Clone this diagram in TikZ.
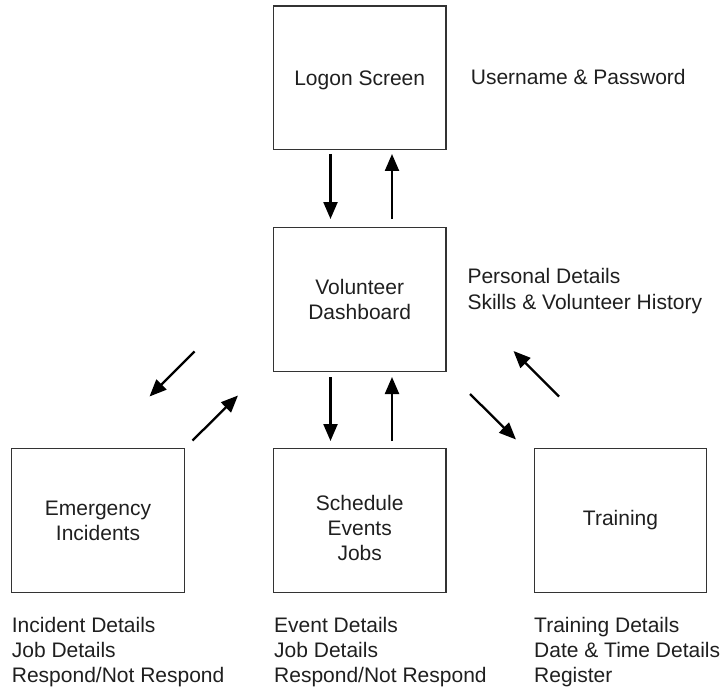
\documentclass[tikz,border=0pt]{standalone}
\usepackage{fontspec}
\setmainfont{Liberation Sans}
\usetikzlibrary{arrows.meta}
\begin{document}
\begin{tikzpicture}[x=1pt,y=-1pt,
  every node/.style={font=\fontsize{21}{25}\selectfont, text=black!88},
  box/.style={draw=black!80, line width=1.1pt, minimum width=172.5pt, minimum height=143.5pt, inner sep=0pt, align=center},
  note/.style={anchor=base west, align=left, inner sep=0pt},
  flow/.style={line width=2.3pt, -{Triangle[length=17pt,width=14pt]}}]
\useasboundingbox (0,0) rectangle (723,690);
% boxes
\node[box, label={[yshift=-2.5pt,inner sep=0pt]center:Logon Screen}] (logon) at (359.7,77.8) {};
\node[box] (dash) at (359.7,299.4) {Volunteer\\Dashboard};
\node[box] (emerg) at (98,520.5) {Emergency\\Incidents};
\node[box, label={[yshift=-7pt,align=center,inner sep=0pt]center:Schedule\\Events\\Jobs}] (sched) at (359.7,520.5) {};
\node[box] (train) at (620.5,520.5) {Training};
% notes (anchored at the baseline of their last line)
\node[note] (n1) at (470.7,85) {Username \& Password};
\node[note, font=\fontsize{21}{26}\selectfont] (n2) at (467.3,309.3) {Personal Details\\Skills \& Volunteer History};
\node[note] (n3) at (11.7,682.7) {Incident Details\\Job Details\\Respond/Not Respond};
\node[note] (n4) at (274,682.7) {Event Details\\Job Details\\Respond/Not Respond};
\node[note] (n5) at (534,682.7) {Training Details\\Date \& Time Details\\Register};
% arrow end points
\coordinate (a1s) at (330.5,154);  \coordinate (a1e) at (330.5,219);
\coordinate (a2s) at (392,219);    \coordinate (a2e) at (392,154);
\coordinate (a3s) at (330.5,377);  \coordinate (a3e) at (330.5,441);
\coordinate (a4s) at (392,441);    \coordinate (a4e) at (392,377);
\coordinate (d1s) at (194.5,351.5); \coordinate (d1e) at (149.5,396.5);
\coordinate (d2s) at (192.5,440.5); \coordinate (d2e) at (238,395.5);
\coordinate (d3s) at (470,394);   \coordinate (d3e) at (516,439.5);
\coordinate (d4s) at (559,396.5); \coordinate (d4e) at (513.5,351);
% arrows
\draw[flow] (a1s) -- (a1e);
\draw[flow] (a2s) -- (a2e);
\draw[flow] (a3s) -- (a3e);
\draw[flow] (a4s) -- (a4e);
\draw[flow] (d1s) -- (d1e);
\draw[flow] (d2s) -- (d2e);
\draw[flow] (d3s) -- (d3e);
\draw[flow] (d4s) -- (d4e);
\end{tikzpicture}
\end{document}
